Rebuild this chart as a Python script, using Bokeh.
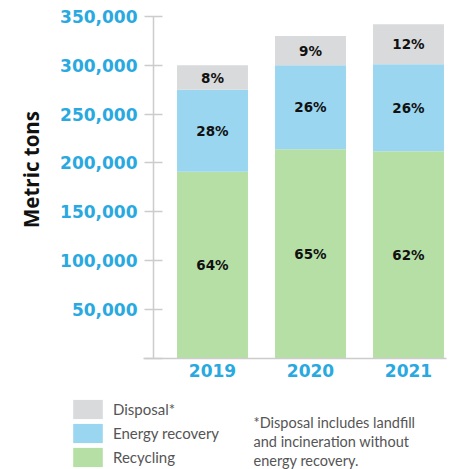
import math
from bokeh.plotting import figure
from bokeh.models import (ColumnDataSource, Range1d, FixedTicker, NumeralTickFormatter,
                          Legend, LegendItem, Label, LabelSet)
from bokeh.core.properties import value
from bokeh.embed import file_html
from bokeh.resources import INLINE

years = [2019, 2020, 2021]
recycling = [191000, 214000, 212000]
energy = [84000, 86000, 89000]
disposal = [25000, 30000, 41000]
legend_labels = ["Disposal*", "Energy recovery", "Recycling"]
y_ticks = [0, 50000, 100000, 150000, 200000, 250000, 300000, 350000]
y_label = "Metric tons"
footnote = "*Disposal includes landfill\nand incineration without\nenergy recovery."

BLUE = "#29a9e0"
C_REC = "#b6dfa6"
C_EN = "#9ad6ef"
C_DIS = "#d9dadc"
AX = "#cccccc"
NUM_FONT = "DejaVu Sans"
TXT_FONT = "Lato"

# canvas geometry (pixels)
W, H = 455, 469
PX_PER_YEAR = 98.0
PX_FIRST = 212.0          # pixel x of first category centre
PX_YAXIS = 153.0          # pixel x of y axis
PX_ZERO = 357.6           # pixel y (from top) of value 0
PX_TOP = 16.0             # pixel y of top tick
Y_MAX = 350000

x0 = years[0] - PX_FIRST / PX_PER_YEAR
x1 = x0 + W / PX_PER_YEAR
upp = Y_MAX / (PX_ZERO - PX_TOP)          # units per pixel
y0 = -(H - PX_ZERO) * upp
y1 = Y_MAX + PX_TOP * upp

totals = [r + e + d for r, e, d in zip(recycling, energy, disposal)]
rec_top = recycling
en_top = [r + e for r, e in zip(recycling, energy)]
dis_top = totals

src = ColumnDataSource(dict(
    year=years, rec_top=rec_top, en_top=en_top, dis_top=dis_top,
    rec_mid=[t / 2 for t in rec_top],
    en_mid=[(a + b) / 2 for a, b in zip(rec_top, en_top)],
    dis_mid=[(a + b) / 2 for a, b in zip(en_top, dis_top)],
    rec_pct=[f"{round(v / t * 100)}%" for v, t in zip(recycling, totals)],
    en_pct=[f"{round(v / t * 100)}%" for v, t in zip(energy, totals)],
    dis_pct=[f"{round(v / t * 100)}%" for v, t in zip(disposal, totals)],
))

p = figure(width=W, height=H, output_backend="svg", toolbar_location=None,
           x_range=Range1d(x0, x1), y_range=Range1d(y0, y1),
           min_border=0)
p.outline_line_color = None
p.grid.grid_line_color = None

bw = 0.724
r_rec = p.vbar(x="year", bottom=0, top="rec_top", width=bw, source=src,
               fill_color=C_REC, line_color=None)
r_en = p.vbar(x="year", bottom="rec_top", top="en_top", width=bw, source=src,
              fill_color=C_EN, line_color=None)
r_dis = p.vbar(x="year", bottom="en_top", top="dis_top", width=bw, source=src,
               fill_color=C_DIS, line_color=None)

for col, mid in (("rec_pct", "rec_mid"), ("en_pct", "en_mid"), ("dis_pct", "dis_mid")):
    p.add_layout(LabelSet(x="year", y=mid, text=col, source=src,
                          text_align="center", text_baseline="middle",
                          text_font=value(NUM_FONT), text_font_style="bold",
                          text_font_size="13.5px", text_color="#111111"))

ya = p.yaxis[0]
ya.fixed_location = x0 + PX_YAXIS / PX_PER_YEAR
ya.bounds = (0, Y_MAX)
ya.ticker = FixedTicker(ticks=y_ticks)
ya.formatter = NumeralTickFormatter(format="0,0")
ya.major_label_overrides = {0: ""}
ya.major_label_text_color = BLUE
ya.major_label_text_font = NUM_FONT
ya.major_label_text_font_style = "bold"
ya.major_label_text_font_size = "17px"
ya.major_label_standoff = 7
ya.major_tick_in = 9
ya.major_tick_out = 9
ya.major_tick_line_color = AX
ya.major_tick_line_width = 1.5
ya.minor_tick_line_color = None
ya.axis_line_color = AX
ya.axis_line_width = 1.5

xa = p.xaxis[0]
xa.fixed_location = 0
xa.bounds = (x0 + 143 / PX_PER_YEAR, x0 + 446 / PX_PER_YEAR)
xa.ticker = FixedTicker(ticks=years)
xa.major_label_text_color = BLUE
xa.major_label_text_font = NUM_FONT
xa.major_label_text_font_style = "bold"
xa.major_label_text_font_size = "17px"
xa.major_label_standoff = 6
xa.major_tick_in = 0
xa.major_tick_out = 0
xa.minor_tick_line_color = None
xa.axis_line_color = AX
xa.axis_line_width = 1.5

p.add_layout(Label(x=30, y=H - 169, x_units="screen", y_units="screen", text=y_label,
                   angle=math.pi / 2, text_align="center", text_baseline="middle",
                   text_font="Open Sans", text_font_style="bold",
                   text_font_size="20.5px", text_color="#111111"))

legend = Legend(items=[LegendItem(label=legend_labels[0], renderers=[r_dis]),
                       LegendItem(label=legend_labels[1], renderers=[r_en]),
                       LegendItem(label=legend_labels[2], renderers=[r_rec])],
                location=(69, 0), orientation="vertical",
                glyph_width=37, glyph_height=24, spacing=0, padding=0, margin=0,
                label_standoff=7, label_height=24,
                label_text_font=TXT_FONT, label_text_font_size="15px",
                label_text_color="#555555",
                border_line_color=None, background_fill_alpha=0)
p.add_layout(legend, "center")

p.add_layout(Label(x=253, y=H - 413, x_units="screen", y_units="screen", text=footnote,
                   text_font=TXT_FONT, text_font_size="14.5px", text_color="#555555",
                   text_baseline="top", text_align="left", text_line_height=1.12))

open("out.html", "w").write(file_html(p, INLINE))
